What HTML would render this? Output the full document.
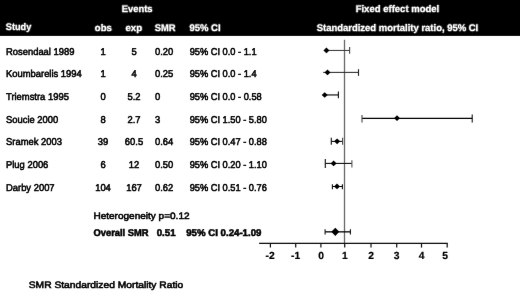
<!DOCTYPE html>
<html><head><meta charset="utf-8">
<style>
html,body{margin:0;padding:0;background:#fff;width:520px;height:291px;overflow:hidden}
svg{display:block;will-change:transform}
text{font-family:"Liberation Sans",sans-serif;text-rendering:geometricPrecision}
.h{fill:#fff;font-weight:bold;font-size:9.6px;stroke:#fff;stroke-width:0.3px}
.h2{fill:#fff;font-weight:bold;font-size:9.55px;stroke:#fff;stroke-width:0.2px}
.d{fill:#000;font-size:9.9px;stroke:#000;stroke-width:0.55px}
.c{fill:#000;font-size:9.4px;stroke:#000;stroke-width:0.55px}
.cb{fill:#000;font-size:9.8px;font-weight:bold;stroke:#000;stroke-width:0.55px}
.ax{fill:#000;font-size:10.3px;font-weight:bold;stroke:#000;stroke-width:0.2px}
</style></head><body>
<svg width="520" height="291" viewBox="0 0 520 291"><defs><filter id="bl" x="0" y="0" width="520" height="291" filterUnits="userSpaceOnUse"><feConvolveMatrix order="3" kernelMatrix="0.0016 0.0371 0.0016 0.0371 0.8450 0.0371 0.0016 0.0371 0.0016" divisor="1" edgeMode="duplicate"/></filter></defs><g filter="url(#bl)">
<rect x="0" y="0" width="520" height="35.9" fill="#000"/>
<!-- header -->
<text class="h" x="121.78" y="12.4" textLength="30.79" lengthAdjust="spacingAndGlyphs">Events</text>
<text class="h" x="355.67" y="12.4" textLength="83.60" lengthAdjust="spacingAndGlyphs">Fixed effect model</text>
<text class="h" x="5.82" y="30.3" textLength="25.44" lengthAdjust="spacingAndGlyphs">Study</text>
<text class="h" x="94.82" y="30.7" textLength="16.96" lengthAdjust="spacingAndGlyphs">obs</text>
<text class="h" x="125.41" y="30.7" textLength="16.68" lengthAdjust="spacingAndGlyphs">exp</text>
<text class="h" x="154.72" y="30.7" textLength="20.77" lengthAdjust="spacingAndGlyphs">SMR</text>
<text class="h" x="189.48" y="30.7" textLength="31.06" lengthAdjust="spacingAndGlyphs">95% CI</text>
<text class="h" x="316.71" y="30.6" textLength="161.53" lengthAdjust="spacingAndGlyphs">Standardized mortality ratio, 95% CI</text>

<!-- rows -->
<g class="d">
<text class="d" x="6" y="54.6" textLength="68.47" lengthAdjust="spacingAndGlyphs">Rosendaal 1989</text>
<text class="d" x="6" y="77.3" textLength="75.77" lengthAdjust="spacingAndGlyphs">Koumbarelis 1994</text>
<text class="d" x="6" y="99.9" textLength="62.86" lengthAdjust="spacingAndGlyphs">Triemstra 1995</text>
<text class="d" x="6" y="122.6" textLength="52.26" lengthAdjust="spacingAndGlyphs">Soucie 2000</text>
<text class="d" x="6" y="145.3" textLength="55.91" lengthAdjust="spacingAndGlyphs">Sramek 2003</text>
<text class="d" x="6" y="167.9" textLength="42.34" lengthAdjust="spacingAndGlyphs">Plug 2006</text>
<text class="d" x="6" y="190.6" textLength="48.60" lengthAdjust="spacingAndGlyphs">Darby 2007</text>
</g>
<g class="d" text-anchor="middle">
<text class="d" x="103" y="54.6" textLength="5.23" lengthAdjust="spacingAndGlyphs">1</text>
<text class="d" x="103" y="77.3" textLength="5.23" lengthAdjust="spacingAndGlyphs">1</text>
<text class="d" x="103" y="99.9" textLength="5.23" lengthAdjust="spacingAndGlyphs">0</text>
<text class="d" x="103" y="122.6" textLength="5.23" lengthAdjust="spacingAndGlyphs">8</text>
<text class="d" x="103" y="145.3" textLength="10.46" lengthAdjust="spacingAndGlyphs">39</text>
<text class="d" x="103" y="167.9" textLength="5.23" lengthAdjust="spacingAndGlyphs">6</text>
<text class="d" x="103" y="190.6" textLength="15.68" lengthAdjust="spacingAndGlyphs">104</text>
<text class="d" x="134" y="54.6" textLength="5.23" lengthAdjust="spacingAndGlyphs">5</text>
<text class="d" x="134" y="77.3" textLength="5.23" lengthAdjust="spacingAndGlyphs">4</text>
<text class="d" x="134" y="99.9" textLength="13.07" lengthAdjust="spacingAndGlyphs">5.2</text>
<text class="d" x="134" y="122.6" textLength="13.07" lengthAdjust="spacingAndGlyphs">2.7</text>
<text class="d" x="134" y="145.3" textLength="18.30" lengthAdjust="spacingAndGlyphs">60.5</text>
<text class="d" x="134" y="167.9" textLength="10.46" lengthAdjust="spacingAndGlyphs">12</text>
<text class="d" x="134" y="190.6" textLength="15.68" lengthAdjust="spacingAndGlyphs">167</text>
</g>
<text class="d" x="155" y="54.6" textLength="18.30" lengthAdjust="spacingAndGlyphs">0.20</text>
<text class="d" x="155" y="77.3" textLength="18.30" lengthAdjust="spacingAndGlyphs">0.25</text>
<text class="d" x="155" y="99.9" textLength="5.23" lengthAdjust="spacingAndGlyphs">0</text>
<text class="d" x="155" y="122.6" textLength="5.23" lengthAdjust="spacingAndGlyphs">3</text>
<text class="d" x="155" y="145.3" textLength="18.30" lengthAdjust="spacingAndGlyphs">0.64</text>
<text class="d" x="155" y="167.9" textLength="18.30" lengthAdjust="spacingAndGlyphs">0.50</text>
<text class="d" x="155" y="190.6" textLength="18.30" lengthAdjust="spacingAndGlyphs">0.62</text>
<text class="d" x="189.7" y="54.6" textLength="66.91" lengthAdjust="spacingAndGlyphs">95% CI 0.0 - 1.1</text>
<text class="d" x="189.7" y="77.3" textLength="66.91" lengthAdjust="spacingAndGlyphs">95% CI 0.0 - 1.4</text>
<text class="d" x="189.7" y="99.9" textLength="72.05" lengthAdjust="spacingAndGlyphs">95% CI 0.0 - 0.58</text>
<text class="d" x="189.7" y="122.6" textLength="77.20" lengthAdjust="spacingAndGlyphs">95% CI 1.50 - 5.80</text>
<text class="d" x="189.7" y="145.3" textLength="77.20" lengthAdjust="spacingAndGlyphs">95% CI 0.47 - 0.88</text>
<text class="d" x="189.7" y="167.9" textLength="77.20" lengthAdjust="spacingAndGlyphs">95% CI 0.20 - 1.10</text>
<text class="d" x="189.7" y="190.6" textLength="77.20" lengthAdjust="spacingAndGlyphs">95% CI 0.51 - 0.76</text>

<text class="c" x="93.42" y="218.5" textLength="96.15" lengthAdjust="spacingAndGlyphs">Heterogeneity p=0.12</text>
<text class="cb" x="93.52" y="235.6" textLength="55.04" lengthAdjust="spacingAndGlyphs">Overall SMR</text>
<text class="cb" x="156.73" y="235.6" textLength="18.92" lengthAdjust="spacingAndGlyphs">0.51</text>
<text class="cb" x="186.19" y="235.6" textLength="75.24" lengthAdjust="spacingAndGlyphs">95% CI 0.24-1.09</text>
<text class="c" x="28.77" y="288.1" textLength="154.51" lengthAdjust="spacingAndGlyphs">SMR Standardized Mortality Ratio</text>

<!-- plot -->
<line x1="344.5" y1="39.8" x2="344.5" y2="243.4" stroke="#666" stroke-width="1.3"/>
<g stroke="#111" stroke-width="1.1" fill="none">
<line x1="259.1" y1="243.4" x2="447.8" y2="243.4" stroke-width="1.3"/>
<line x1="270.4" y1="243.4" x2="270.4" y2="247.6" stroke-width="1.2"/>
<line x1="295.7" y1="243.4" x2="295.7" y2="247.6" stroke-width="1.2"/>
<line x1="320.9" y1="243.4" x2="320.9" y2="247.6" stroke-width="1.2"/>
<line x1="344.7" y1="243.4" x2="344.7" y2="247.6" stroke-width="1.2"/>
<line x1="371.0" y1="243.4" x2="371.0" y2="247.6" stroke-width="1.2"/>
<line x1="396.7" y1="243.4" x2="396.7" y2="247.6" stroke-width="1.2"/>
<line x1="421.5" y1="243.4" x2="421.5" y2="247.6" stroke-width="1.2"/>
<line x1="447.2" y1="243.4" x2="447.2" y2="247.6" stroke-width="1.2"/>
<line x1="326.4" y1="50.45" x2="349.6" y2="50.45" stroke="#383838" stroke-width="1.0"/>
<line x1="349.6" y1="46.9" x2="349.6" y2="53.7" stroke="#444"/>
<line x1="323.2" y1="72.4" x2="358.5" y2="72.4" stroke="#242424" stroke-width="1.0"/>
<line x1="358.5" y1="69.2" x2="358.5" y2="75.9" stroke="#222"/>
<line x1="324.7" y1="94.95" x2="338.4" y2="94.95" stroke="#000" stroke-width="1.1"/>
<line x1="338.4" y1="91.4" x2="338.4" y2="98.3" stroke="#111"/>
<line x1="362.0" y1="118.35" x2="472.2" y2="118.35" stroke="#000" stroke-width="1.15"/>
<line x1="362.0" y1="115.0" x2="362.0" y2="122.6" stroke="#444"/>
<line x1="472.2" y1="114.4" x2="472.2" y2="122.6" stroke="#111"/>
<line x1="331.3" y1="141.4" x2="342.6" y2="141.4" stroke="#000" stroke-width="1.05"/>
<line x1="331.3" y1="137.8" x2="331.3" y2="144.8" stroke="#111"/>
<line x1="342.6" y1="137.8" x2="342.6" y2="144.8" stroke="#444"/>
<line x1="325.3" y1="163.4" x2="351.9" y2="163.4" stroke="#000" stroke-width="1.05"/>
<line x1="325.3" y1="158.9" x2="325.3" y2="168.1" stroke="#111"/>
<line x1="351.9" y1="160.2" x2="351.9" y2="167.4" stroke="#555"/>
<line x1="332.4" y1="186.5" x2="342.4" y2="186.5" stroke="#000" stroke-width="1.0"/>
<line x1="332.4" y1="184.3" x2="332.4" y2="189.3" stroke="#111"/>
<line x1="342.4" y1="184.3" x2="342.4" y2="189.3" stroke="#111"/>
<line x1="325.1" y1="231.85" x2="350.4" y2="231.85" stroke="#000" stroke-width="1.3"/>
<line x1="325.1" y1="229.2" x2="325.1" y2="234.5" stroke="#111"/>
<line x1="350.4" y1="229.2" x2="350.4" y2="234.5" stroke="#111"/>
</g>
<g fill="#000">
<path d="M323.45 50.4 L326.45 47.55 L329.45 50.4 L326.45 53.25 Z"/>
<path d="M324.50 72.4 L327.5 69.55 L330.50 72.4 L327.5 75.25 Z"/>
<path d="M321.70 95.0 L324.7 92.15 L327.70 95.0 L324.7 97.85 Z"/>
<path d="M394.00 118.2 L397.0 115.35 L400.00 118.2 L397.0 121.05 Z"/>
<path d="M334.10 141.35 L337.1 138.50 L340.10 141.35 L337.1 144.20 Z"/>
<path d="M330.60 163.4 L333.6 160.55 L336.60 163.4 L333.6 166.25 Z"/>
<path d="M334.00 186.45 L337.0 183.60 L340.00 186.45 L337.0 189.30 Z"/>
<path d="M331.3 231.85 L335.3 227.65 L339.3 231.85 L335.3 236.05 Z"/>
</g>
<g class="ax" text-anchor="middle">
<text class="ax" x="270.2" y="259.4">-2</text>
<text class="ax" x="295.6" y="259.4">-1</text>
<text class="ax" x="321.05" y="259.4">0</text>
<text class="ax" x="344.75" y="259.4">1</text>
<text class="ax" x="371.1" y="259.4">2</text>
<text class="ax" x="396.55" y="259.4">3</text>
<text class="ax" x="421.65" y="259.4">4</text>
<text class="ax" x="445.1" y="259.4">5</text>
</g>
</g></svg>
</body></html>
